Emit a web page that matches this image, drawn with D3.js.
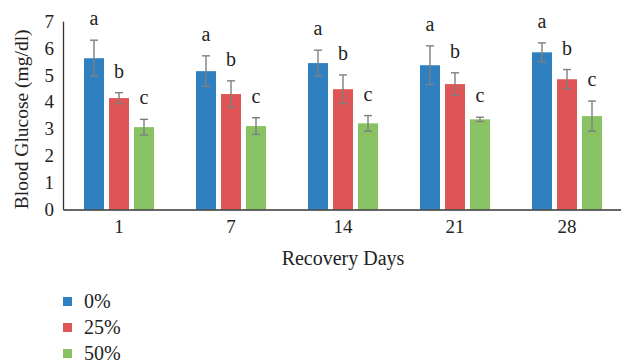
<!DOCTYPE html>
<meta charset="utf-8">
<head>
    <title>Blood Glucose</title>
    <script type="text/javascript" src="https://cdn.jsdelivr.net/npm/d3@7/dist/d3.min.js"></script>
    <style>
        html, body { margin: 0; padding: 0; background: #fff; }
        svg { display: block; font-family: "Liberation Serif", "DejaVu Serif", serif; }
        svg text { font-family: "Liberation Serif", "DejaVu Serif", serif; }
        .tick text { font-size: 19px; fill: #222; }
    </style>
</head>
<body>
    <div id="chart"></div>
    <script>
        // data
        var days = ["1", "7", "14", "21", "28"];
        var groups = ["0%", "25%", "50%"];
        var means0  = [5.62, 5.14, 5.44, 5.36, 5.84];
        var means25 = [4.14, 4.29, 4.47, 4.66, 4.84];
        var means50 = [3.06, 3.10, 3.20, 3.35, 3.47];
        var err0  = [0.67, 0.57, 0.48, 0.72, 0.35];
        var err25 = [0.20, 0.49, 0.53, 0.42, 0.36];
        var err50 = [0.29, 0.31, 0.29, 0.08, 0.56];
        var letters = ["a", "b", "c"];
        var yTicks = [0, 1, 2, 3, 4, 5, 6, 7];
        var colors = ["#2e80c1", "#e05656", "#88c263"];

        var means = [means0, means25, means50];
        var errs = [err0, err25, err50];

        var W = 621, H = 362;
        var x0 = 63, x1 = 623, yTop = 21.1, yBot = 209.5;

        var svg = d3.select("#chart").append("svg")
            .attr("width", W).attr("height", H);

        var x = d3.scaleBand().domain(days).range([x0, x1]);
        var y = d3.scaleLinear().domain([0, 7]).range([yBot, yTop]);
        var barW = 20, gap = 5;

        // bars
        var rows = [];
        days.forEach(function(d, i) {
            groups.forEach(function(g, j) {
                rows.push({day: d, g: j, v: means[j][i], e: errs[j][i]});
            });
        });

        function cx(r) {
            return x(r.day) + x.bandwidth() / 2 + (r.g - 1) * (barW + gap);
        }

        svg.selectAll("rect.bar").data(rows).enter().append("rect")
            .attr("class", "bar")
            .attr("x", function(r) { return cx(r) - barW / 2; })
            .attr("y", function(r) { return y(r.v); })
            .attr("width", barW)
            .attr("height", function(r) { return y(0) - y(r.v); })
            .attr("fill", function(r) { return colors[r.g]; });

        // error bars
        var eb = svg.selectAll("g.err").data(rows).enter().append("g")
            .attr("stroke", "#7f7f7f").attr("stroke-width", 1.4);
        eb.append("line")
            .attr("x1", cx).attr("x2", cx)
            .attr("y1", function(r) { return y(r.v + r.e); })
            .attr("y2", function(r) { return y(r.v - r.e); });
        eb.append("line")
            .attr("x1", function(r) { return cx(r) - 4; }).attr("x2", function(r) { return cx(r) + 4; })
            .attr("y1", function(r) { return y(r.v + r.e); })
            .attr("y2", function(r) { return y(r.v + r.e); });
        eb.append("line")
            .attr("x1", function(r) { return cx(r) - 4; }).attr("x2", function(r) { return cx(r) + 4; })
            .attr("y1", function(r) { return y(r.v - r.e); })
            .attr("y2", function(r) { return y(r.v - r.e); });

        // letters
        svg.selectAll("text.lt").data(rows).enter().append("text")
            .attr("class", "lt")
            .attr("x", cx)
            .attr("y", function(r) { return y(r.v + r.e) - 15; })
            .attr("text-anchor", "middle")
            .attr("font-size", 20)
            .attr("fill", "#222")
            .text(function(r) { return letters[r.g]; });

        // axes
        var yAxis = svg.append("g")
            .attr("transform", "translate(" + x0 + ",0)")
            .call(d3.axisLeft(y).tickValues(yTicks).tickFormat(d3.format("d")).tickSize(0).tickPadding(9));
        yAxis.attr("font-family", null);
        yAxis.select(".domain").attr("stroke", "#333").attr("stroke-width", 1.3);

        var xAxis = svg.append("g")
            .attr("transform", "translate(0," + yBot + ")")
            .call(d3.axisBottom(x).tickSize(0).tickPadding(10));
        xAxis.attr("font-family", null);
        xAxis.select(".domain").attr("stroke", "#333").attr("stroke-width", 1.3);

        svg.append("text")
            .attr("x", 343).attr("y", 265)
            .attr("text-anchor", "middle")
            .attr("font-size", 20).attr("fill", "#222")
            .text("Recovery Days");

        svg.append("text")
            .attr("transform", "translate(28," + ((yTop + yBot) / 2 + 4) + ") rotate(-90)")
            .attr("text-anchor", "middle")
            .attr("font-size", 19.5).attr("fill", "#222")
            .text("Blood Glucose (mg/dl)");

        // legend
        var leg = svg.selectAll("g.leg").data(groups).enter().append("g")
            .attr("transform", function(d, i) { return "translate(63," + (301.5 + i * 26) + ")"; });
        leg.append("rect")
            .attr("x", 0).attr("y", -4.5).attr("width", 9).attr("height", 9)
            .attr("fill", function(d, i) { return colors[i]; });
        leg.append("text")
            .attr("x", 21).attr("y", 6)
            .attr("font-size", 20).attr("fill", "#222")
            .text(function(d) { return d; });
    </script>
</body>
</html>
